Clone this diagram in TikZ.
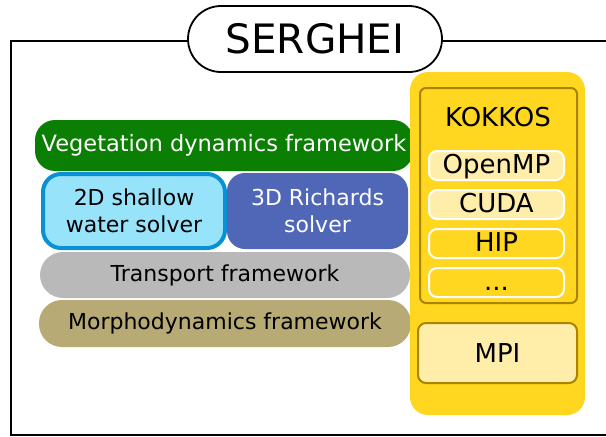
\documentclass[tikz,border=0pt]{standalone}
\usepackage{fontspec}
\setmainfont{DejaVu Sans}
\usetikzlibrary{positioning,shapes.misc}
\definecolor{vegGreen}{HTML}{0B7E04}
\definecolor{swFill}{HTML}{97E3FA}
\definecolor{swBlue}{HTML}{0A90D4}
\definecolor{richBlue}{HTML}{5067B8}
\definecolor{trGray}{HTML}{B9B9B9}
\definecolor{morKhaki}{HTML}{B7AA74}
\definecolor{kkYellow}{HTML}{FFD620}
\definecolor{kkGold}{HTML}{A88400}
\definecolor{kkLight}{HTML}{FFEEAA}

\begin{document}
\begin{tikzpicture}[
x=1pt, y=-1pt,
every node/.style={font=\fontsize{22}{27}\selectfont, align=center, inner sep=0pt},
title/.style={draw, line width=1.8pt, fill=white, rounded rectangle, minimum width=254pt, minimum height=66pt, font=\fontsize{40.5}{44}\selectfont},
frame/.style={line width=1.8pt},
fw/.style={rounded corners=20pt, outer sep=0pt},
solver/.style={rounded corners=18pt, outer sep=0pt},
rfont/.style={font=\fontsize{26}{29}\selectfont},
column/.style={fill=kkYellow, rounded corners=18pt, minimum width=175pt, minimum height=343pt},
kkbox/.style={draw=kkGold, line width=2pt, fill=kkYellow, rounded corners=6pt},
backend/.style={draw=white, line width=2pt, rounded corners=8pt, minimum width=135pt, minimum height=29pt, text height=19pt, text depth=3pt, rfont}
]
\useasboundingbox (0,0) rectangle (606,437);

% outer frame and title
\draw[frame] (606,41) -- (11,41) -- (11,435) -- (606,435);
\node[title] (serghei) at (315,39) {SERGHEI};

% Left stack (frameworks and solvers)
\node[fw, fill=vegGreen, text=white, font=\fontsize{22.5}{27}\selectfont, minimum width=378pt, minimum height=51pt] (veg) at (224,145.5) {Vegetation dynamics framework};
\node[solver, draw=swBlue, line width=4pt, fill=swFill, minimum width=182pt, minimum height=74pt, outer sep=2pt, below right=1pt and 6pt of veg.south west, anchor=north west] (water) {2D shallow\\water solver};
\node[solver, fill=richBlue, text=white, minimum width=181pt, minimum height=76pt, right=0pt of water] (richards) {3D Richards\\solver};
\node[fw, fill=trGray, rounded corners=23pt, minimum width=370pt, minimum height=46pt] (transport) at (225,275) {Transport framework};
\node[fw, fill=morKhaki, rounded corners=23pt, minimum width=372pt, minimum height=47pt, below=2pt of transport] (morpho) {Morphodynamics framework};

% Right column (KOKKOS + MPI)
\node[column] (col) at (497.5,243.5) {};
\node[kkbox, minimum width=157pt, minimum height=215pt] (kokkos) at (498.5,195.5) {};
\node[rfont] (kokkosT) at (498,117) {KOKKOS};
\node[backend, fill=kkLight] (openmp) at (496.5,165.5) {OpenMP};
\node[backend, fill=kkLight, below=8pt of openmp] (cuda) {CUDA};
\node[backend, fill=kkYellow, below=8pt of cuda] (hip) {HIP};
\node[backend, fill=kkYellow, below=8pt of hip] (more) {...};
\node[kkbox, fill=kkLight, rfont, rounded corners=8pt, minimum width=159pt, minimum height=60pt] (mpi) at (497.5,353) {MPI};
\end{tikzpicture}
\end{document}
